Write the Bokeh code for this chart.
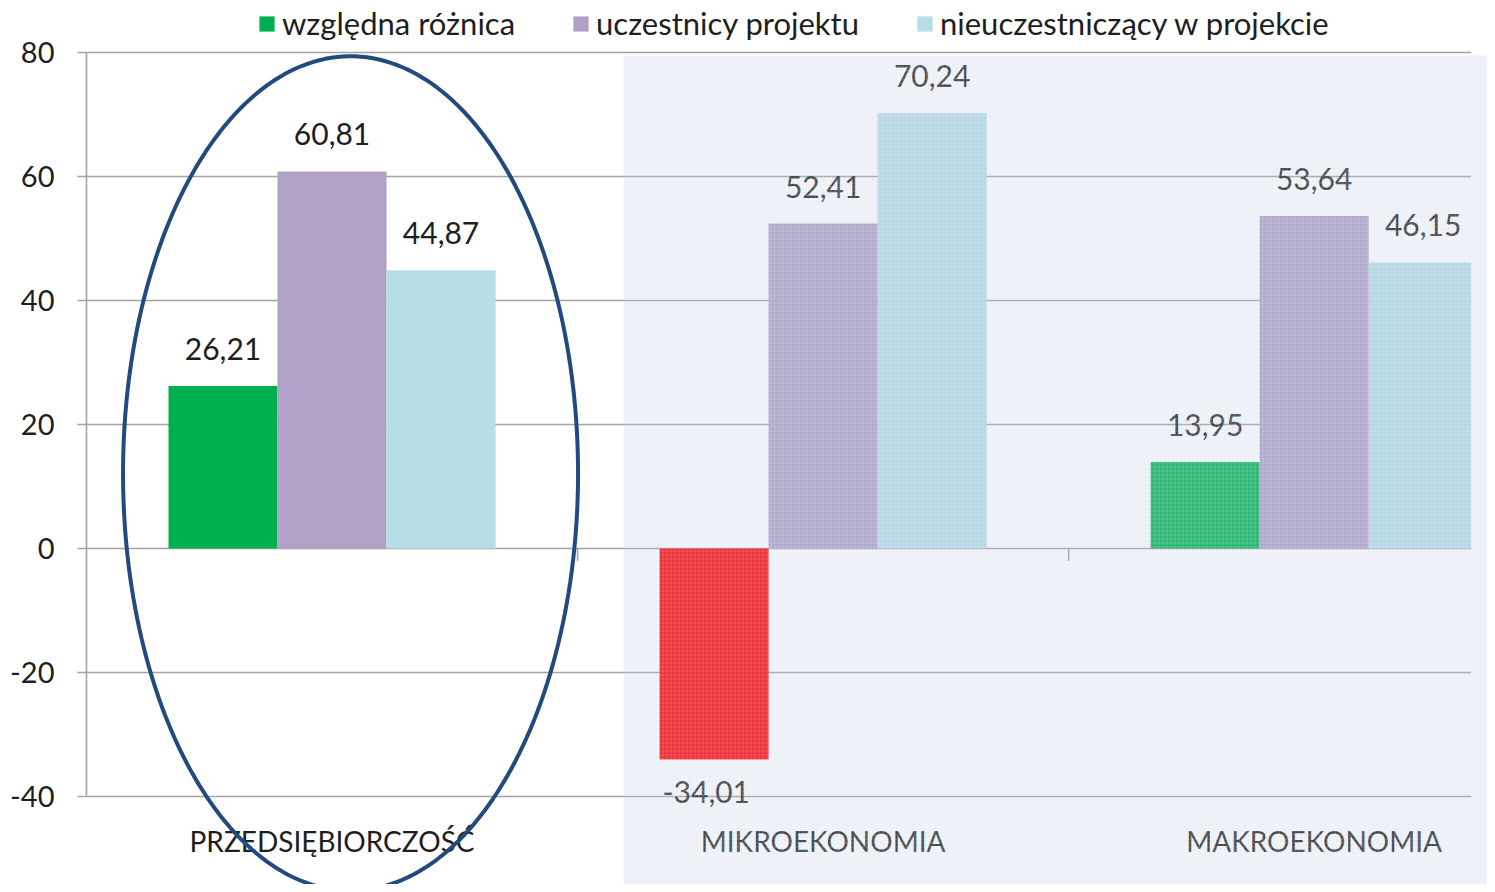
import numpy as np
from bokeh.plotting import figure
from bokeh.models import (ColumnDataSource, Range1d, FixedTicker, Legend, LegendItem,
                          BoxAnnotation, PolyAnnotation)
from bokeh.core.properties import value
from bokeh.embed import file_html
from bokeh.resources import INLINE

# ---- data ----
categories = ["PRZEDSIĘBIORCZOŚĆ", "MIKROEKONOMIA", "MAKROEKONOMIA"]
series_names = ["względna różnica", "uczestnicy projektu", "nieuczestniczący w projekcie"]
roznica = [26.21, -34.01, 13.95]
uczestnicy = [60.81, 52.41, 53.64]
nieuczestniczacy = [44.87, 70.24, 46.15]
y_ticks = [-40, -20, 0, 20, 40, 60, 80]

FONT = "Lato"
TXT = "#1e1e1e"
GRID = "#a3a3a3"
GREEN = "#00b050"
RED = "#ff0000"
PURPLE = "#b1a0c7"
CYAN = "#b7dde8"

n = len(categories)
centers = np.arange(n) + 0.5
bw = 0.222
offsets = [-bw, 0.0, bw]
X_END = 2.853          # visible end of the x range (frame reaches the canvas edge)
PLOT_END = 2.82        # where the chart's own plot area ends
Y_MIN, Y_MAX = -54.19, 88.39

p = figure(width=1487, height=884, output_backend="svg", toolbar_location=None,
           x_range=Range1d(0, X_END), y_range=Range1d(Y_MIN, Y_MAX),
           min_border_left=86, min_border_right=0, min_border_top=0, min_border_bottom=0)
p.outline_line_color = None
p.background_fill_color = "white"
p.border_fill_color = "white"
p.xgrid.visible = False
p.ygrid.visible = False
p.xaxis.visible = False

# horizontal gridlines limited to the chart's plot area
p.segment(x0=0, x1=PLOT_END, y0=y_ticks, y1=y_ticks, line_color=GRID, line_width=1.6,
          level="underlay")

# bars (right edge limited to plot area)
def bar_edges(s):
    left = centers + offsets[s] - bw / 2
    right = np.minimum(centers + offsets[s] + bw / 2, PLOT_END)
    return left, right

colors_diff = [GREEN if v >= 0 else RED for v in roznica]
renderers = []
for s, (vals, col) in enumerate([(roznica, colors_diff), (uczestnicy, PURPLE),
                                 (nieuczestniczacy, CYAN)]):
    l, r = bar_edges(s)
    src = ColumnDataSource(dict(left=l, right=r, top=vals, bottom=[0] * n,
                                color=col if isinstance(col, list) else [col] * n))
    renderers.append(p.quad(left="left", right="right", top="top", bottom="bottom",
                            source=src, fill_color="color", line_color=None))

# category separator ticks under the zero line
seps = np.arange(1, n)
p.segment(x0=seps, x1=seps, y0=0, y1=-2.0, line_color=GRID, line_width=1.5)

# value labels
lx, ly, lt = [], [], []
nx, ny, nt = [], [], []
for s, vals in enumerate([roznica, uczestnicy, nieuczestniczacy]):
    for i, v in enumerate(vals):
        txt = f"{v:.2f}".replace(".", ",")
        if v >= 0:
            lx.append(centers[i] + offsets[s]); ly.append(v); lt.append(txt)
        else:
            nx.append(centers[i] + offsets[s] - 0.016); ny.append(v); nt.append(txt)
p.text(x=lx, y=ly, text=lt, text_color=TXT, text_align="center", text_baseline="bottom",
       y_offset=-26, text_font=value(FONT), text_font_size="30px")
p.text(x=nx, y=ny, text=nt, text_color=TXT, text_align="center", text_baseline="top",
       y_offset=22, text_font=value(FONT), text_font_size="30px")

# category labels
p.text(x=centers, y=[y_ticks[0]] * n, text=categories, text_color=TXT, text_align="center",
       text_baseline="middle", y_offset=44, text_font=value(FONT), text_font_size="28px")

# y axis
p.yaxis.ticker = FixedTicker(ticks=y_ticks)
p.yaxis.bounds = (y_ticks[0], y_ticks[-1])
p.yaxis.major_label_overrides = {t: str(t) for t in y_ticks}
p.yaxis.major_label_text_font = FONT
p.yaxis.major_label_text_font_size = "29px"
p.yaxis.major_label_text_color = TXT
p.yaxis.axis_line_color = GRID
p.yaxis.axis_line_width = 1.6
p.yaxis.major_tick_line_color = GRID
p.yaxis.major_tick_line_width = 1.6
p.yaxis.major_tick_out = 9
p.yaxis.major_tick_in = 0
p.yaxis.minor_tick_line_color = None
p.yaxis.major_label_standoff = 23

# translucent textured panel over the right part of the slide
panel = BoxAnnotation(left=1.0937, top=79.5,
                      fill_color="#b8c8e0", fill_alpha=0.25, line_color=None, level="overlay",
                      hatch_pattern="+", hatch_color="white", hatch_alpha=0.25, hatch_scale=4,
                      hatch_weight=0.6)
p.add_layout(panel)

# ellipse highlight
t = np.linspace(0, 2 * np.pi, 240)
ex = 0.5377 + 0.4633 * np.cos(t)
ey = 12.1 + 67.3 * np.sin(t)
ell = PolyAnnotation(xs=list(ex), ys=list(ey), fill_alpha=0, line_color="#234a7e",
                     line_alpha=1, line_width=4, level="overlay")
p.add_layout(ell)

legend = Legend(items=[LegendItem(label=series_names[0], renderers=[renderers[0]], index=0),
                       LegendItem(label=series_names[1], renderers=[renderers[1]], index=0),
                       LegendItem(label=series_names[2], renderers=[renderers[2]], index=0)],
                orientation="horizontal", location=(171, 842),
                label_text_font=FONT, label_text_font_size="31px", label_text_color=TXT,
                glyph_width=19, glyph_height=19, label_standoff=6, spacing=56,
                padding=0, margin=0, border_line_color=None, background_fill_alpha=0,
                label_height=34)
p.add_layout(legend)

open("out.html", "w").write(file_html(p, INLINE))
